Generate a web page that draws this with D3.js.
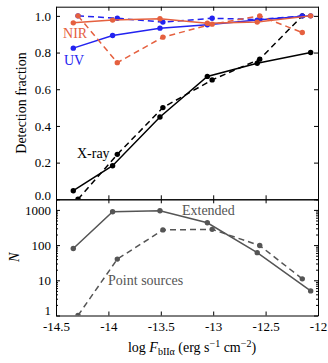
<!DOCTYPE html>
<html>
<head>
<meta charset="utf-8">
<script src="https://cdn.jsdelivr.net/npm/d3@7"></script>
<style>
  body { margin: 0; background: #fff; }
  svg { display: block; }
  text { font-family: "Liberation Serif", "Times New Roman", serif; }
</style>
</head>
<body>
<script>
// x positions of the bins (solid = extended, dashed = point sources)
const xSolid = [-14.335, -13.96, -13.508, -13.056, -12.58, -12.07];
const xDashed = [-14.29, -13.915, -13.48, -13.01, -12.556, -12.15];

// detection fractions (top panel)
const xraySolid = [0.047, 0.183, 0.449, 0.67, 0.742, 0.80];
const xrayDashed = [0.0, 0.245, 0.50, 0.651, 0.764, 1.0];
const nirSolid = [0.962, 0.977, 0.984, 0.96, 0.966, 1.0];
const nirDashed = [1.0, 0.745, 0.884, 0.955, 1.0, 0.909];
const uvSolid = [0.824, 0.893, 0.933, 0.951, 0.977, 1.0];
const uvDashed = [1.0, 0.987, 0.966, 0.987, 0.98, 1.0];

// number counts (bottom panel)
const extended = [80, 890, 950, 430, 61, 5];
const pointSources = [1, 40, 270, 280, 97, 11];

const xTicks = [-14.5, -14, -13.5, -13, -12.5, -12];
const fracTicks = [0, 0.2, 0.4, 0.6, 0.8, 1.0];
const countTicks = [1, 10, 100, 1000];

const WIDTH = 328, HEIGHT = 363;
const LEFT = 56, RIGHT = 318;
const TOP = 6.7, MID = 199.3, BOTTOM = 315.5;

const ORANGE = "#e5603f";
const BLUE = "#2323f0";
const GRAY = "#555555";
const SERIF = '"Liberation Serif", "Times New Roman", serif';

const x = d3.scaleLinear([-14.5, -12], [LEFT, RIGHT]);
const yFrac = d3.scaleLinear([0, 1.05], [MID, TOP]);
const yN = d3.scaleLog([1, 2000], [BOTTOM, MID]);

const svg = d3.select("body").append("svg")
    .attr("width", WIDTH)
    .attr("height", HEIGHT);

const defs = svg.append("defs");
defs.append("clipPath").attr("id", "clipTop")
  .append("rect").attr("x", LEFT).attr("y", TOP).attr("width", RIGHT - LEFT).attr("height", MID - TOP);
defs.append("clipPath").attr("id", "clipBot")
  .append("rect").attr("x", LEFT).attr("y", MID).attr("width", RIGHT - LEFT).attr("height", BOTTOM - MID);

function styleAxis(g) {
  g.attr("font-family", SERIF).attr("font-size", 13);
  g.select(".domain").attr("stroke", "#000").attr("stroke-width", 1);
  g.selectAll(".tick line").attr("stroke", "#000").attr("stroke-width", 1);
  g.selectAll(".tick text").attr("fill", "#000");
}

// ---- top panel frame ----
svg.append("g").attr("transform", `translate(${LEFT},0)`)
  .call(d3.axisLeft(yFrac).tickValues(fracTicks).tickFormat(d3.format(".1f"))
    .tickSizeInner(-4).tickSizeOuter(0).tickPadding(5))
  .call(styleAxis)
  .call(g => g.selectAll(".tick text").filter(d => d === 0).attr("dy", "0.05em"));
svg.append("g").attr("transform", `translate(${RIGHT},0)`)
  .call(d3.axisRight(yFrac).tickValues(fracTicks).tickFormat("")
    .tickSizeInner(-4).tickSizeOuter(0))
  .call(styleAxis);
svg.append("g").attr("transform", `translate(0,${TOP})`)
  .call(d3.axisTop(x).tickValues(xTicks).tickFormat("")
    .tickSizeInner(-4).tickSizeOuter(0))
  .call(styleAxis);
svg.append("g").attr("transform", `translate(0,${MID})`)
  .call(d3.axisBottom(x).tickValues(xTicks).tickFormat("")
    .tickSizeInner(-4).tickSizeOuter(0))
  .call(styleAxis);

// ---- bottom panel frame ----
const minorN = [];
countTicks.forEach(d => { for (let k = 2; k <= 9; k++) if (d * k <= 2000) minorN.push(d * k); });

svg.append("g").attr("transform", `translate(${LEFT},0)`)
  .call(d3.axisLeft(yN).tickValues(countTicks).tickFormat(d3.format("d"))
    .tickSizeInner(-4).tickSizeOuter(0).tickPadding(5))
  .call(styleAxis)
  .call(g => g.selectAll(".tick text").filter(d => d === 1).attr("dy", "-0.05em"));
svg.append("g").attr("transform", `translate(${LEFT},0)`)
  .call(d3.axisLeft(yN).tickValues(minorN).tickFormat("")
    .tickSizeInner(-2).tickSizeOuter(0))
  .call(styleAxis);
svg.append("g").attr("transform", `translate(${RIGHT},0)`)
  .call(d3.axisRight(yN).tickValues(countTicks).tickFormat("")
    .tickSizeInner(-4).tickSizeOuter(0))
  .call(styleAxis);
svg.append("g").attr("transform", `translate(${RIGHT},0)`)
  .call(d3.axisRight(yN).tickValues(minorN).tickFormat("")
    .tickSizeInner(-2).tickSizeOuter(0))
  .call(styleAxis);
svg.append("g").attr("transform", `translate(0,${MID})`)
  .call(d3.axisTop(x).tickValues(xTicks).tickFormat("")
    .tickSizeInner(-4).tickSizeOuter(0))
  .call(styleAxis);
svg.append("g").attr("transform", `translate(0,${BOTTOM})`)
  .call(d3.axisBottom(x).tickValues(xTicks).tickFormat(d => String(d))
    .tickSizeInner(-4).tickSizeOuter(0).tickPadding(6))
  .call(styleAxis);

// ---- series ----
function series(g, xs, ys, y, color, dashed) {
  const pts = xs.map((v, i) => [v, ys[i]]);
  g.append("path")
    .datum(pts)
    .attr("fill", "none")
    .attr("stroke", color)
    .attr("stroke-width", 1.5)
    .attr("stroke-dasharray", dashed ? "6,4" : null)
    .attr("d", d3.line().x(d => x(d[0])).y(d => y(d[1])));
  g.selectAll(null).data(pts).join("circle")
    .attr("cx", d => x(d[0]))
    .attr("cy", d => y(d[1]))
    .attr("r", 2.7)
    .attr("fill", color);
}

const gTop = svg.append("g").attr("clip-path", "url(#clipTop)");
series(gTop, xSolid, xraySolid, yFrac, "#000", false);
series(gTop, xDashed, xrayDashed, yFrac, "#000", true);
series(gTop, xSolid, uvSolid, yFrac, BLUE, false);
series(gTop, xDashed, uvDashed, yFrac, BLUE, true);
series(gTop, xSolid, nirSolid, yFrac, ORANGE, false);
series(gTop, xDashed, nirDashed, yFrac, ORANGE, true);

const gBot = svg.append("g").attr("clip-path", "url(#clipBot)");
series(gBot, xSolid, extended, yN, GRAY, false);
series(gBot, xDashed, pointSources, yN, GRAY, true);

// ---- annotations ----
function note(txt, xv, y, color) {
  svg.append("text")
    .attr("x", x(xv)).attr("y", y)
    .attr("dy", "0.35em")
    .attr("fill", color)
    .style("font-size", "14px")
    .text(txt);
}
note("NIR", -14.433, yFrac(0.907), ORANGE);
note("UV", -14.424, yFrac(0.76), BLUE);
note("X-ray", -14.3, yFrac(0.25), "#000");
note("Extended", -13.298, yN(1000), GRAY);
note("Point sources", -14.003, yN(10), GRAY);

// ---- axis titles ----
svg.append("text")
  .attr("transform", `translate(26,${(TOP + MID) / 2}) rotate(-90)`)
  .attr("text-anchor", "middle")
  .style("font-size", "14px")
  .text("Detection fraction");

svg.append("text")
  .attr("transform", `translate(19,${(MID + BOTTOM) / 2}) rotate(-90)`)
  .attr("text-anchor", "middle")
  .style("font-size", "14px")
  .style("font-style", "italic")
  .text("N");

const xl = svg.append("text")
  .attr("x", (LEFT + RIGHT) / 2 + 5)
  .attr("y", 352)
  .attr("text-anchor", "middle")
  .style("font-size", "14px");
xl.append("tspan").text("log ");
xl.append("tspan").style("font-style", "italic").text("F");
xl.append("tspan").attr("dy", 3).style("font-size", "10px").text("bIIα");
xl.append("tspan").attr("dy", -3).text(" (erg s");
xl.append("tspan").attr("dy", -5).style("font-size", "10px").text("−1");
xl.append("tspan").attr("dy", 5).text(" cm");
xl.append("tspan").attr("dy", -5).style("font-size", "10px").text("−2");
xl.append("tspan").attr("dy", 5).text(")");
</script>
</body>
</html>
